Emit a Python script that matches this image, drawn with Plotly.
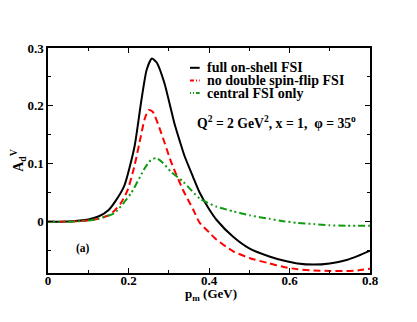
import plotly.graph_objects as go

# Curves
x_full = [0, 0.05, 0.1, 0.125, 0.15, 0.165, 0.19, 0.215, 0.231, 0.245, 0.258, 0.27,
          0.289, 0.314, 0.327, 0.339, 0.36, 0.377, 0.4, 0.419, 0.46, 0.5, 0.55,
          0.585, 0.62, 0.66, 0.7, 0.742, 0.77, 0.8]
y_full = [0, 0.0005, 0.004, 0.009, 0.02, 0.033, 0.063, 0.13, 0.205, 0.262, 0.282, 0.275,
          0.24, 0.17, 0.14, 0.114, 0.078, 0.05, 0.022, 0.003, -0.026, -0.046, -0.06,
          -0.067, -0.072, -0.074, -0.072, -0.066, -0.059, -0.05]

x_nodsf = [0, 0.05, 0.1, 0.125, 0.15, 0.165, 0.18, 0.198, 0.215, 0.231, 0.24, 0.25,
           0.26, 0.281, 0.306, 0.336, 0.36, 0.377, 0.4, 0.419, 0.46, 0.502, 0.545,
           0.585, 0.62, 0.66, 0.7, 0.742, 0.77, 0.8]
y_nodsf = [0, 0.0003, 0.002, 0.005, 0.011, 0.019, 0.031, 0.055, 0.097, 0.149, 0.177, 0.193,
           0.19, 0.154, 0.103, 0.054, 0.022, -0.002, -0.018, -0.031, -0.051, -0.063, -0.071,
           -0.078, -0.082, -0.084, -0.085, -0.085, -0.084, -0.081]

x_central = [0, 0.05, 0.1, 0.124, 0.165, 0.207, 0.24, 0.255, 0.269, 0.285, 0.306, 0.336,
             0.377, 0.419, 0.46, 0.502, 0.55, 0.585, 0.62, 0.66, 0.7, 0.742, 0.8]
y_central = [0, 0, 0.002, 0.005, 0.015, 0.05, 0.092, 0.106, 0.11, 0.102, 0.086, 0.069,
             0.04, 0.026, 0.018, 0.011, 0.005, 0.001, -0.002, -0.004, -0.006, -0.007, -0.007]

names = ["full on-shell FSI", "no double spin-flip FSI", "central FSI only"]
colors = ["black", "#ff0000", "#109a10"]
dashes = ["solid", "7px,4px", "7px,3px,2px,3px,2px,3px"]

font_family = "Liberation Serif"

fig = go.Figure()
for xs, ys, name, col, dash in zip([x_full, x_nodsf, x_central],
                                   [y_full, y_nodsf, y_central],
                                   names, colors, dashes):
    fig.add_trace(go.Scatter(x=xs, y=ys, mode="lines", name=name,
                             line=dict(color=col, width=2, dash=dash,
                                       shape="spline", smoothing=0.6)))

# hand-made legend (short keys, tight rows like the original)
legend_keys = ["solid", "4px,2px,1px,2px", "1px,2px,1px,2px,5px,2px"]
for i, (name, col, key) in enumerate(zip(names, colors, legend_keys)):
    yy = 0.912 - i * 0.056
    fig.add_shape(type="line", xref="paper", yref="paper", x0=0.441, x1=0.471,
                  y0=yy, y1=yy, line=dict(color=col, width=2, dash=key))
    fig.add_annotation(x=0.4876, y=yy, xref="paper", yref="paper", showarrow=False,
                       xanchor="left", yanchor="middle", text=name,
                       font=dict(family=font_family, size=14, color="black", weight="bold"))

axis_common = dict(showline=True, linecolor="black", linewidth=1.5, mirror="ticks",
                   ticks="inside", ticklen=5, tickwidth=1, tickcolor="black",
                   showgrid=False, zeroline=False, automargin=False,
                   tickfont=dict(family=font_family, size=13, color="black", weight="bold"))

fig.update_xaxes(range=[0, 0.8], tickvals=[0, 0.2, 0.4, 0.6, 0.8],
                 ticktext=["0", "0.2", "0.4", "0.6", "0.8"],
                 ticklabelstandoff=-5,
                 minor=dict(dtick=0.1, ticks="inside", ticklen=3, tickcolor="black"),
                 **axis_common)
fig.update_yaxes(range=[-0.0885, 0.3], tickvals=[0, 0.1, 0.2, 0.3],
                 ticktext=["0", "0.1", "0.2", "0.3"],
                 minor=dict(dtick=0.05, ticks="inside", ticklen=3, tickcolor="black"),
                 title=dict(text="A<sub>d</sub><sup>V</sup>", standoff=10,
                            font=dict(family=font_family, size=14, color="black", weight="bold")),
                 **axis_common)

# x-axis title placed as an annotation so it can sit close to the tick labels
fig.add_annotation(x=0.506, y=-0.14, xref="paper", yref="paper", showarrow=False,
                   text="p<sub>m</sub> (GeV)",
                   font=dict(family=font_family, size=13, color="black", weight="bold"))
fig.add_annotation(x=0.4565, y=0.72, xref="paper", yref="paper", showarrow=False,
                   xanchor="left",
                   text="Q<sup>2</sup> = 2 GeV<sup>2</sup>, x = 1,  \u03c6 = 35<sup>o</sup>",
                   font=dict(family=font_family, size=13.7, color="black", weight="bold"))
fig.add_annotation(x=0.08, y=0.07, xref="paper", yref="paper", showarrow=False,
                   xanchor="left", text="(a)",
                   font=dict(family=font_family, size=11.5, color="black", weight="bold"))

# the page body adds 8px, so the margins are trimmed by that much
fig.update_layout(width=417, height=322,
                  margin=dict(l=40, r=55, t=40, b=57),
                  paper_bgcolor="white", plot_bgcolor="white",
                  showlegend=False)

fig.write_html("out.html")
